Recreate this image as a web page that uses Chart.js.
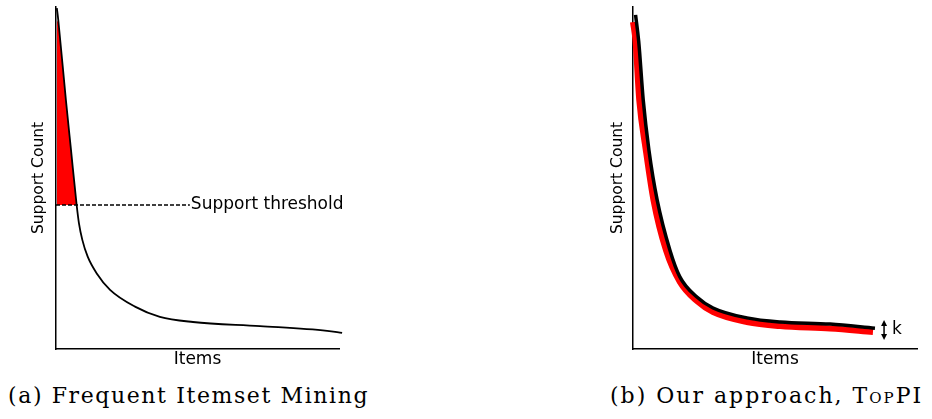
<!DOCTYPE html>
<html>
<head>
<meta charset="utf-8">
<script src="https://cdn.jsdelivr.net/npm/chart.js@4/dist/chart.umd.min.js"></script>
<style>
body{margin:0;background:#fff;width:932px;height:419px;position:relative;overflow:hidden}
canvas{position:absolute;top:0}
#c1{left:0}
#c2{left:466px}
.cap{position:absolute;top:384px;font-family:"DejaVu Serif",serif;font-size:22px;line-height:24px;white-space:nowrap;color:#000}
#capA{left:8px;letter-spacing:1.6px}
#capB{left:610px;letter-spacing:2px}
</style>
</head>
<body>
<canvas id="c1" width="466" height="370"></canvas>
<canvas id="c2" width="466" height="370"></canvas>
<div class="cap" id="capA">(a) Frequent Itemset Mining</div>
<div class="cap" id="capB">(b) Our approach, <span style="font-variant:small-caps">TopPI</span></div>
<script>
// (a) support curve, items sorted by support (0-100 both ways)
var curveX = [0.3, 0.8, 3.5, 5.3, 7.3, 8.1, 9.3, 11.2, 14.4, 19.1, 27.9, 36.7, 48.4, 72.1, 95.8, 101.1];
var curveY = [99.7, 96.2, 72.8, 58.2, 42.1, 36.8, 31.9, 27.0, 22.1, 17.3, 12.4, 9.4, 7.9, 6.7, 5.3, 4.7];
// part above the threshold (shaded)
var shadeX = [0.3, 0.8, 3.5, 5.3, 7.3];
var shadeY = [96.2, 95.5, 72.8, 58.2, 42.1];
var threshold = 42.1;
var thresholdEnd = 47.3;

// (b) support curve and what TopPI returns (k per item)
var topX = [0.9, 2.0, 3.6, 5.6, 8.5, 13.0, 16.5, 22.5, 28.2, 40.1, 51.8, 69.4, 85.2];
var topY = [97.7, 90, 72.8, 58.2, 43.6, 28.9, 21.1, 15.2, 12.0, 9.1, 7.9, 7.3, 6.1];
var redX = [0, 0.9, 2.2, 4.5, 7.2, 11.6, 16.5, 22.5, 28.2, 40.1, 51.8, 69.4, 84.5];
var redY = [95.6, 90, 72.8, 58.2, 43.6, 28.9, 19.6, 14.0, 10.8, 7.9, 6.7, 6.0, 5.0];
var kX = 88.4;
var kY = [8.5, 2.6];

function pts(xs, ys){
  return xs.map(function(x, i){ return {x: x, y: ys[i]}; });
}

Chart.defaults.font.family = 'DejaVu Sans';
Chart.defaults.color = '#000';

function axes(yw){
  return {
    x: {
      type: 'linear', min: 0, max: 100,
      grid: {display: false},
      border: {display: true, color: '#000', width: 1.5},
      ticks: {display: false},
      title: {display: true, text: 'Items', font: {size: 17}, padding: 0},
      afterFit: function(s){ s.height = 21; }
    },
    y: {
      type: 'linear', min: 0, max: 100,
      grid: {display: false},
      border: {display: true, color: '#000', width: 1.5},
      ticks: {display: false},
      title: {display: true, text: 'Support Count', font: {size: 15.5}, padding: {top: 30, bottom: 0}},
      afterFit: function(s){ s.width = yw; }
    }
  };
}

var thresholdText = {
  id: 'thresholdText',
  afterDatasetsDraw: function(chart){
    var ctx = chart.ctx;
    var x = chart.scales.x.getPixelForValue(thresholdEnd);
    var y = chart.scales.y.getPixelForValue(threshold);
    ctx.save();
    ctx.font = '17px "DejaVu Sans"';
    ctx.fillStyle = '#000';
    ctx.textBaseline = 'middle';
    ctx.fillText('Support threshold', x + 1, y);
    ctx.restore();
  }
};

var kArrow = {
  id: 'kArrow',
  afterDatasetsDraw: function(chart){
    var ctx = chart.ctx;
    var x = chart.scales.x.getPixelForValue(kX);
    var y1 = chart.scales.y.getPixelForValue(kY[0]);
    var y2 = chart.scales.y.getPixelForValue(kY[1]);
    ctx.save();
    ctx.strokeStyle = '#000';
    ctx.fillStyle = '#000';
    ctx.lineWidth = 1.5;
    ctx.beginPath();
    ctx.moveTo(x, y1 + 4);
    ctx.lineTo(x, y2 - 4);
    ctx.stroke();
    ctx.beginPath();
    ctx.moveTo(x, y1); ctx.lineTo(x - 3, y1 + 6); ctx.lineTo(x + 3, y1 + 6); ctx.closePath();
    ctx.moveTo(x, y2); ctx.lineTo(x - 3, y2 - 6); ctx.lineTo(x + 3, y2 - 6); ctx.closePath();
    ctx.fill();
    ctx.font = '17px "DejaVu Sans"';
    ctx.textBaseline = 'middle';
    ctx.fillText('k', x + 8, (y1 + y2) / 2);
    ctx.restore();
  }
};

var common = {
  responsive: false,
  animation: false,
  devicePixelRatio: 1,
  plugins: {legend: {display: false}, tooltip: {enabled: false}},
  elements: {point: {radius: 0}}
};

new Chart(document.getElementById('c1'), {
  type: 'line',
  data: {
    datasets: [{
      data: pts(curveX, curveY),
      borderColor: '#000', borderWidth: 1.8,
      cubicInterpolationMode: 'monotone',
      fill: false, clip: false
    }, {
      data: [{x: 0, y: threshold}, {x: thresholdEnd, y: threshold}],
      borderColor: '#000', borderWidth: 1.5, borderDash: [4, 2],
      fill: false
    }, {
      data: pts(shadeX, shadeY),
      borderWidth: 0, borderColor: 'rgba(0,0,0,0)',
      backgroundColor: '#ff0000',
      fill: {value: threshold}
    }]
  },
  options: Object.assign({}, common, {
    layout: {padding: {left: 0, top: 7, right: 127, bottom: 0}},
    scales: axes(56)
  }),
  plugins: [thresholdText]
});

new Chart(document.getElementById('c2'), {
  type: 'line',
  data: {
    datasets: [{
      data: pts(topX, topY),
      borderColor: '#000', borderWidth: 3.5,
      cubicInterpolationMode: 'monotone',
      fill: false, clip: false
    }, {
      data: pts(redX, redY),
      borderColor: '#ff0000', borderWidth: 6,
      cubicInterpolationMode: 'monotone',
      fill: false, clip: false
    }]
  },
  options: Object.assign({}, common, {
    layout: {padding: {left: 113, top: 7, right: 15, bottom: 0}},
    scales: axes(54)
  }),
  plugins: [kArrow]
});
</script>
</body>
</html>
